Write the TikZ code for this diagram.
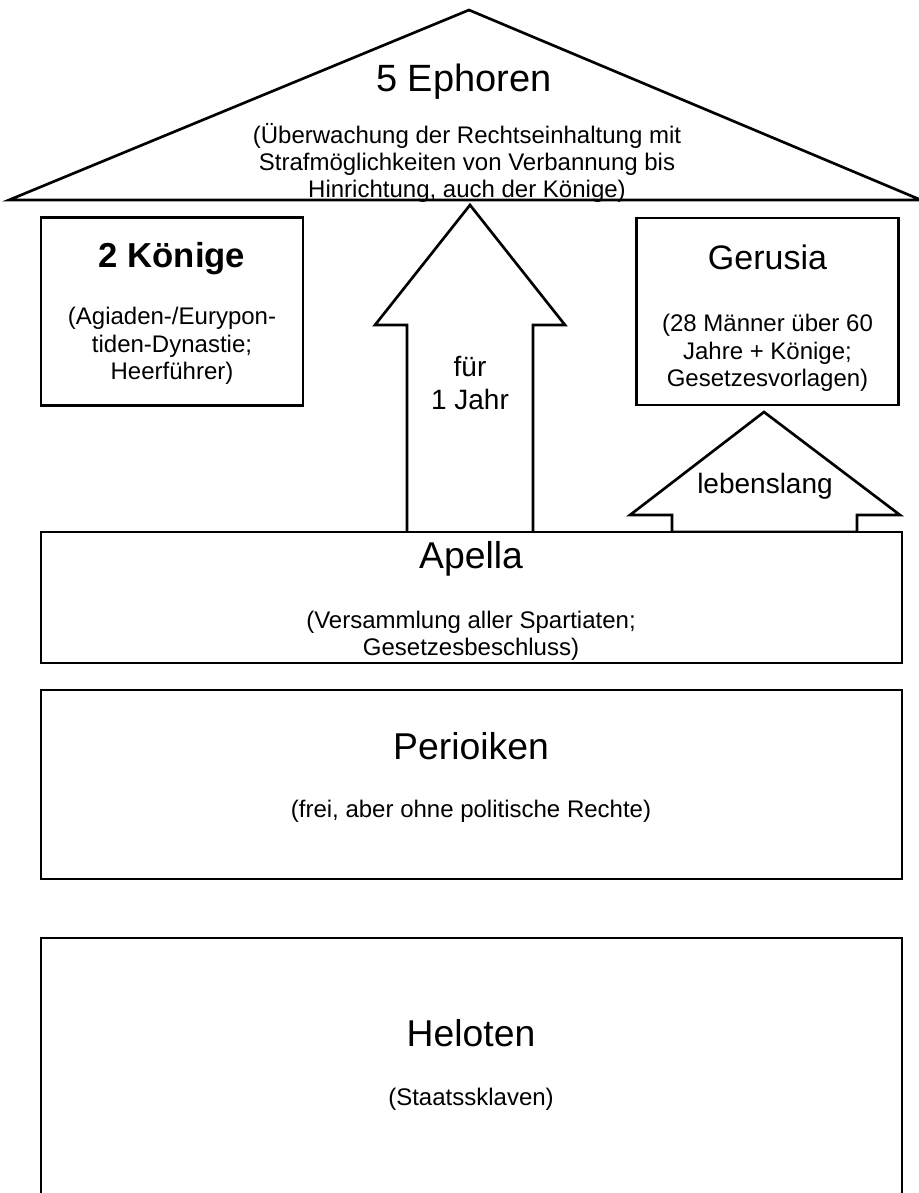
\documentclass[tikz,border=0pt]{standalone}
\usepackage{fontspec}
\setmainfont{Liberation Sans}
\begin{document}
\begin{tikzpicture}[x=0.75pt,y=-0.75pt,
  line width=2pt, line join=miter,
  box/.style={draw, fill=white, inner sep=0pt, minimum width=#1},
  ttl/.style={inner sep=0pt, font=\fontsize{28pt}{30pt}\selectfont, text height=20pt, text depth=0pt},
  sub/.style={inner sep=0pt, align=center, font=\fontsize{18pt}{20.5pt}\selectfont},
  subone/.style={inner sep=0pt, font=\fontsize{18pt}{20.5pt}\selectfont, text height=12.9pt, text depth=0pt},
  arrlbl/.style={inner sep=0pt, align=center, font=\fontsize{21pt}{24.75pt}\selectfont},
  blockarrow/.style={draw, fill=white}]
\useasboundingbox (0,0) rectangle (919,1193);
\fill[white] (0,0) rectangle (919,1193);
\clip (0,0) rectangle (919,1193);

% roof: 5 Ephoren
\draw[fill=white] (9,200) -- (469,10) -- (921,200) -- cycle;
\node[ttl, font=\fontsize{28.5pt}{30pt}\selectfont, text height=20.4pt] (ephT) at (464,78) {5 Ephoren};
\node[sub] (ephS) at (467,163) {(Überwachung der Rechtseinhaltung mit\\Strafmöglichkeiten von Verbannung bis\\Hinrichtung, auch der Könige)};

% boxes
\node[box=196.5pt, minimum height=141pt] (kon) at (172,311.5) {};
\node[ttl, font=\fontsize{26pt}{30pt}\selectfont\bfseries, text height=18.6pt] (konT) at (172,255) {2 Könige};
\node[sub] (konS) at (172,346) {(Agiaden-/Eurypon-\\tiden-Dynastie;\\Heerführer)};

\node[box=196.5pt, minimum height=140.25pt] (ger) at (767.5,311.5) {};
\node[ttl, font=\fontsize{25.5pt}{30pt}\selectfont, text height=18.3pt] (gerT) at (767.5,257) {Gerusia};
\node[sub] (gerS) at (767.5,353) {(28 Männer über 60\\Jahre + Könige;\\Gesetzesvorlagen)};

% block arrows
\draw[blockarrow] (407,533) -- (407,325) -- (375,325) -- (470,205) -- (565,325) -- (533,325) -- (533,533) -- cycle;
\node[arrlbl] (fuer) at (470,383) {für\\1 Jahr};
\draw[blockarrow] (672,532) -- (672,515) -- (630,515) -- (764,412) -- (900,515) -- (857,515) -- (857,532) -- cycle;
\node[ttl, font=\fontsize{21pt}{24pt}\selectfont, text height=15.4pt] (leb) at (765,483) {lebenslang};

% Apella
\node[box=645.75pt, minimum height=98.25pt] (apella) at (471.5,597.5) {};
\node[ttl] (apT) at (471,555) {Apella};
\node[sub] (apS) at (471,636) {(Versammlung aller Spartiaten;\\Gesetzesbeschluss)};

% Perioiken
\node[box=645.75pt, minimum height=141.75pt] (peri) at (471.5,784.5) {};
\node[ttl] (peT) at (471,746) {Perioiken};
\node[subone] (peS) at (471,809) {(frei, aber ohne politische Rechte)};

% Heloten
\node[box=645.75pt, minimum height=241.5pt] (helo) at (471.5,1099) {};
\node[ttl] (heT) at (471,1033) {Heloten};
\node[subone] (heS) at (471,1097) {(Staatssklaven)};
\end{tikzpicture}
\end{document}
